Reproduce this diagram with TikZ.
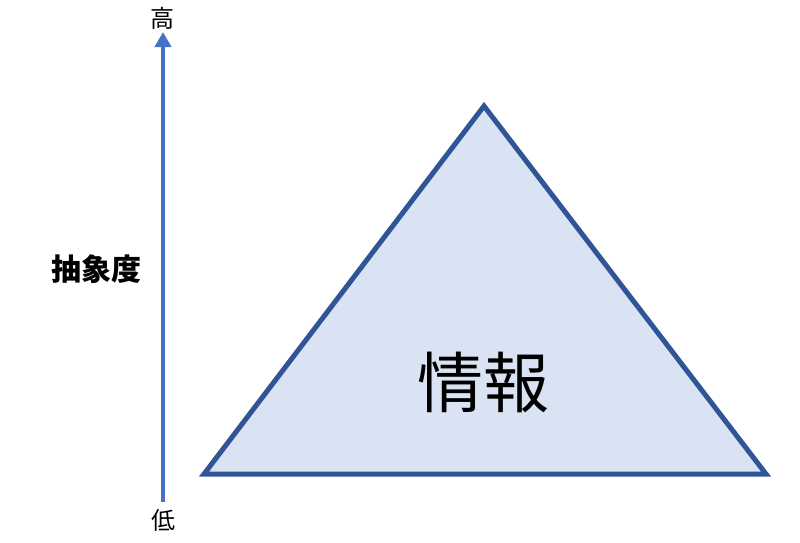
\documentclass[tikz,border=0pt]{standalone}
\usepackage{fontspec}
\newfontfamily\cjk{Noto Sans CJK JP}
\usetikzlibrary{arrows.meta}
\definecolor{trifill}{HTML}{DAE3F3}
\definecolor{tridraw}{HTML}{2F5597}
\definecolor{axisblue}{HTML}{4472C4}
\tikzset{
  tri/.style={fill=trifill,draw=tridraw,line width=5pt,line join=miter},
  axisline/.style={draw=axisblue,line width=4.5pt,-{Triangle[length=15pt,width=16pt]}},
  lbl/.style={inner sep=0pt,font=\cjk\fontsize{24}{26}\selectfont}
}
\begin{document}
\begin{tikzpicture}[x=1pt,y=-1pt]
\useasboundingbox (0,0) rectangle (800,542);
\coordinate (A) at (484,106);
\coordinate (L) at (204,474);
\coordinate (R) at (766,474);
\draw[tri] (A) -- (L) -- (R) -- cycle;
\coordinate (bot) at (163,502);
\coordinate (top) at (163,32);
\draw[axisline] (bot) -- (top);
\node[lbl] (hi) at (162,18) {高};
\node[lbl] (lo) at (163,520) {低};
\node[inner sep=0pt,font=\cjk\fontsize{30}{32}\selectfont\bfseries] (abs) at (96,269) {抽象度};
\node[inner sep=0pt,font=\cjk\fontsize{66}{70}\selectfont] (info) at (483,382) {情報};
\end{tikzpicture}
\end{document}
